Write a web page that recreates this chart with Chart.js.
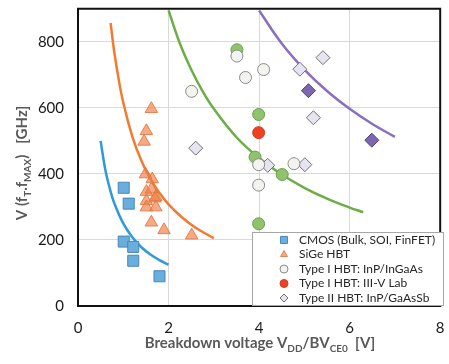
<!DOCTYPE html>
<html lang="en">
<head>
<meta charset="UTF-8">
<title>Breakdown voltage vs speed</title>
<style>
  html, body { margin: 0; padding: 0; background: #fff; }
</style>
</head>
<body>
<canvas id="chart" width="449" height="364"></canvas>
<script src="https://cdn.jsdelivr.net/npm/chart.js@4/dist/chart.umd.min.js"></script>
<script>
// points (x = breakdown voltage [V], y = GHz)
const cmosX = [1.01, 1.12, 1.01, 1.22, 1.22, 1.80]
const cmosY = [358, 310, 195, 179, 137, 90]

const sigeX = [1.62, 1.51, 1.46, 1.49, 1.64, 1.51, 1.62, 1.72, 1.70, 1.51, 1.51, 1.72, 1.62, 1.90, 2.51]
const sigeY = [597, 530, 498, 399, 384, 346, 353, 330, 326, 318, 299, 299, 253, 230, 214]

const inpX = [2.51, 3.51, 3.70, 4.10, 3.99, 4.77, 3.99]
const inpY = [650, 757, 692, 716, 428, 431, 366]

// green highlighted InP points
const inpHiX = [3.51, 3.99, 3.91, 4.51, 3.99]
const inpHiY = [776, 580, 451, 398, 249]

const labX = [3.99]
const labY = [525]

const t2X = [2.60, 5.41, 4.90, 5.20, 4.19, 5.01]
const t2Y = [478, 752, 717, 570, 426, 428]

// purple highlighted Type II points
const t2HiX = [5.09, 6.49]
const t2HiY = [652, 502]

// trend curves
const blueX = [0.5, 0.6, 0.7, 0.8, 1.0, 1.2, 1.4, 1.6, 1.8, 2.0]
const blueY = [500, 415, 357, 312, 250, 208, 178, 156, 139, 125]
const orangeX = [0.72, 0.8, 0.9, 1.0, 1.2, 1.4, 1.6, 1.8, 2.0, 2.3, 2.6, 3.0]
const orangeY = [857, 770, 685, 616, 513, 440, 385, 342, 308, 268, 237, 205]
const greenX = [2.0, 2.25, 2.5, 2.75, 3.0, 3.5, 4.0, 4.5, 5.0, 5.5, 6.0, 6.3]
const greenY = [895, 795, 716, 651, 597, 511, 448, 398, 358, 325, 298, 284]
const purpleX = [4.0, 4.5, 5.0, 5.5, 6.0, 6.5, 7.0]
const purpleY = [895, 795, 716, 651, 597, 551, 512]

const xTicks = [0, 2, 4, 6, 8]
const yTicks = [0, 200, 400, 600, 800]

const legendNames = ['CMOS (Bulk, SOI, FinFET)', 'SiGe HBT', 'Type I HBT: InP/InGaAs', 'Type I HBT: III-V Lab', 'Type II HBT: InP/GaAsSb']

const pts = (xs, ys) => xs.map((x, i) => ({ x: x, y: ys[i] }))

const curve = (xs, ys, color) => ({
    data: pts(xs, ys),
    showLine: true,
    borderColor: color,
    borderWidth: 2.5,
    pointRadius: 0,
    tension: 0.4,
    order: 5
})

const marks = (xs, ys, style, r, fill, edge, name) => ({
    label: name || '',
    data: pts(xs, ys),
    pointStyle: style,
    pointRadius: r,
    pointHoverRadius: r,
    backgroundColor: fill,
    borderColor: edge,
    borderWidth: 1,
    order: 1
})

const datasets = [
    marks(cmosX, cmosY, 'rect', 7.8, '#6aaedd', '#4a86b8', legendNames[0]),
    marks(sigeX, sigeY, 'triangle', 7.2, 'rgba(240,125,65,0.65)', 'rgba(225,120,70,0.9)', legendNames[1]),
    marks(inpX, inpY, 'circle', 6, '#f3f3ef', '#8a8a8a', legendNames[2]),
    marks(labX, labY, 'circle', 6, '#f0401f', '#c8402a', legendNames[3]),
    marks(t2X, t2Y, 'rectRot', 7, '#e6e4f0', '#707070', legendNames[4]),
    marks(inpHiX, inpHiY, 'circle', 6, '#8fc46c', '#6e9d52'),
    marks(t2HiX, t2HiY, 'rectRot', 7, '#7e67b0', '#4d3d7a'),
    curve(blueX, blueY, '#2f9ad6'),
    curve(orangeX, orangeY, '#f47a30'),
    curve(greenX, greenY, '#6cae45'),
    curve(purpleX, purpleY, '#8a6fbf')
]

// text with subscripts, centred on (cx, cy)
function richText(ctx, parts, cx, cy) {
    const big = 'bold 15px Lato', small = 'bold 10px Lato'
    let w = 0
    parts.forEach(p => { ctx.font = p.sub ? small : big; w += ctx.measureText(p.t).width })
    let x = cx - w / 2
    ctx.textBaseline = 'alphabetic'
    ctx.textAlign = 'left'
    parts.forEach(p => {
        ctx.font = p.sub ? small : big
        ctx.fillText(p.t, x, cy + 5 + (p.sub ? 4 : 0))
        x += ctx.measureText(p.t).width
    })
}

// no extra label padding, chart area is set by layout padding only
const noPad = s => { s.paddingTop = 0; s.paddingBottom = 0; s.paddingLeft = 0; s.paddingRight = 0 }

const decor = {
    id: 'decor',
    afterDraw(chart) {
        const ctx = chart.ctx
        const a = chart.chartArea
        ctx.save()
        // frame
        ctx.beginPath()
        ctx.rect(a.left, a.top, a.right - a.left, a.bottom - a.top)
        ctx.strokeStyle = '#111'
        ctx.lineWidth = 2
        ctx.stroke()

        // axis titles
        ctx.fillStyle = '#595959'
        richText(ctx, [{ t: 'Breakdown voltage V' }, { t: 'DD', sub: true }, { t: '/BV' }, { t: 'CE0', sub: true }, { t: '  [V]' }], 260, 343)
        ctx.save()
        ctx.translate(22, 163)
        ctx.rotate(-Math.PI / 2)
        richText(ctx, [{ t: 'V (f' }, { t: 'T', sub: true }, { t: '.f' }, { t: 'MAX', sub: true }, { t: ')   [GHz]' }], 0, 0)
        ctx.restore()

        // legend box
        const bx = 252, by = 232, bw = 191, bh = 73
        ctx.fillStyle = '#fff'
        ctx.fillRect(bx, by, bw, bh)
        ctx.strokeStyle = '#a6a6a6'
        ctx.lineWidth = 1
        ctx.strokeRect(bx + 0.5, by + 0.5, bw, bh)
        ctx.font = '12px Lato'
        ctx.textBaseline = 'middle'
        ctx.textAlign = 'left'
        legendNames.forEach((name, i) => {
            const ds = datasets[i]
            const y = by + 8 + i * 14.5
            const opts = { pointStyle: ds.pointStyle, radius: ds.pointStyle === 'rect' ? 5 : 4, rotation: 0, borderWidth: 1 }
            ctx.fillStyle = ds.backgroundColor
            ctx.strokeStyle = ds.borderColor
            ctx.lineWidth = 1
            Chart.helpers.drawPoint(ctx, opts, 284, y)
            ctx.fillStyle = '#262626'
            ctx.fillText(name, 299, y)
        })
        ctx.restore()
    }
}

new Chart(document.getElementById('chart').getContext('2d'), {
    type: 'scatter',
    data: { datasets: datasets },
    options: {
        responsive: false,
        animation: false,
        layout: { padding: { left: 0, right: 4, top: 5, bottom: 0 } },
        plugins: { legend: { display: false }, tooltip: { enabled: false } },
        scales: {
            x: {
                min: 0, max: 8,
                afterBuildTicks: s => { s.ticks = xTicks.map(v => ({ value: v })) },
                afterFit: s => { s.height = 58; noPad(s) },
                grid: { color: '#d9d9d9', drawTicks: false },
                border: { display: false },
                ticks: { padding: 13, color: '#1a1a1a', font: { family: 'Lato', size: 15 } }
            },
            y: {
                min: 0, max: 900,
                afterBuildTicks: s => { s.ticks = yTicks.map(v => ({ value: v })) },
                afterFit: s => { s.width = 78; noPad(s) },
                grid: { color: '#d9d9d9', drawTicks: false },
                border: { display: false },
                ticks: { padding: 14, color: '#1a1a1a', font: { family: 'Lato', size: 15 } }
            }
        }
    },
    plugins: [decor]
})
</script>
</body>
</html>
